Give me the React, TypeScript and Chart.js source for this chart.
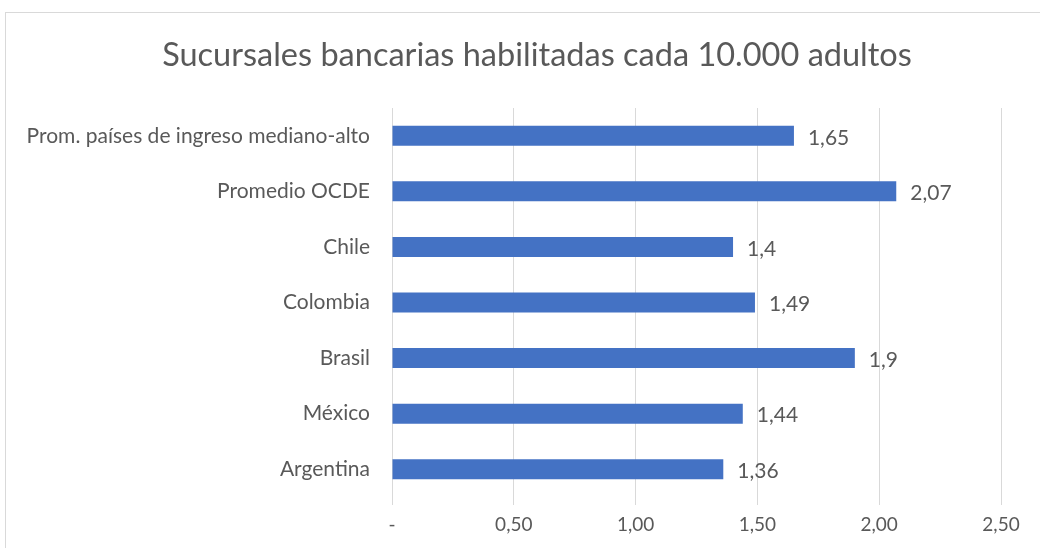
import React, { useEffect, useRef } from "react";
import { Chart, registerables } from "chart.js";

Chart.register(...registerables);

const TITLE = "Sucursales bancarias habilitadas cada 10.000 adultos";
const categories = [
  "Prom. países de ingreso mediano-alto",
  "Promedio OCDE",
  "Chile",
  "Colombia",
  "Brasil",
  "México",
  "Argentina",
];
const values = [1.65, 2.07, 1.4, 1.49, 1.9, 1.44, 1.36];
const valueLabels = ["1,65", "2,07", "1,4", "1,49", "1,9", "1,44", "1,36"];
const xMin = 0;
const xMax = 2.5;
const xStep = 0.5;

const FONT = "Lato";
const GRAY = "#595959";

const dataLabelPlugin = {
  id: "dataLabels",
  afterDatasetsDraw(chart: any) {
    const ctx = chart.ctx;
    const meta = chart.getDatasetMeta(0);
    ctx.save();
    ctx.fillStyle = GRAY;
    ctx.font = `21px ${FONT}`;
    ctx.textAlign = "left";
    ctx.textBaseline = "middle";
    meta.data.forEach((bar: any, i: number) => {
      ctx.fillText(valueLabels[i], bar.x + 14, bar.y + 2);
    });
    ctx.restore();
  },
};

const titlePlugin = {
  id: "offsetTitle",
  afterDraw(chart: any) {
    const ctx = chart.ctx;
    ctx.save();
    ctx.fillStyle = GRAY;
    ctx.font = `32.5px ${FONT}`;
    ctx.textAlign = "center";
    ctx.textBaseline = "middle";
    ctx.fillText(TITLE, 537, 56);
    ctx.restore();
  },
};

export default function App() {
  const ref = useRef<HTMLCanvasElement | null>(null);
  useEffect(() => {
    if (!ref.current) return;
    const chart = new Chart(ref.current, {
      type: "bar",
      data: {
        labels: categories,
        datasets: [
          {
            data: values,
            backgroundColor: "#4472C4",
            borderWidth: 0,
            categoryPercentage: 0.72,
            barPercentage: 0.5,
          },
        ],
      },
      options: {
        indexAxis: "y",
        animation: false,
        responsive: false,
        layout: { padding: { left: 0, right: 39, top: 108, bottom: 0 } },
        plugins: {
          legend: { display: false },
          tooltip: { enabled: false },
          title: { display: false },
        },
        scales: {
          x: {
            min: xMin,
            max: xMax,
            ticks: {
              stepSize: xStep,
              color: GRAY,
              font: { family: FONT, size: 19 },
              padding: 8,
              callback: (v: any) =>
                Number(v) === 0 ? "-" : Number(v).toFixed(2).replace(".", ","),
            },
            grid: {
              color: "#D9D9D9",
              lineWidth: 1,
              drawTicks: true,
              tickLength: 8,
            },
            border: { display: false },
            afterFit: (s: any) => {
              s.height = 51;
            },
          },
          y: {
            ticks: {
              color: GRAY,
              font: { family: FONT, size: 21 },
              padding: 22,
            },
            grid: { display: false, drawTicks: false },
            border: { display: true, color: "#D9D9D9" },
            afterFit: (s: any) => {
              s.width = 392;
            },
          },
        },
      },
      plugins: [dataLabelPlugin, titlePlugin],
    });
    return () => chart.destroy();
  }, []);
  return (
    <div style={{ position: "absolute", left: 0, top: 0, width: 1040, height: 548, overflow: "hidden", background: "#fff" }}>
      <div
        style={{
          position: "absolute",
          left: 5,
          top: 12,
          width: 1060,
          height: 560,
          border: "1px solid #D9D9D9",
        }}
      />
      <canvas ref={ref} width={1040} height={548} style={{ position: "absolute", left: 0, top: 0 }} />
    </div>
  );
}
